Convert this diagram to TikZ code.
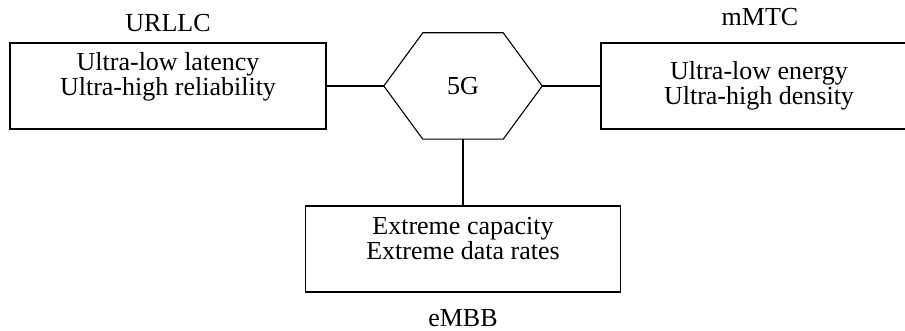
\documentclass[tikz,border=0pt]{standalone}
\usepackage{fontspec}
\setmainfont{Liberation Serif}
\usetikzlibrary{positioning}
\tikzset{
  usecase/.style = {rectangle, draw=black, line width=1.1pt,
                    minimum width=316pt, minimum height=86pt,
                    align=center, inner sep=0pt},
  hexa/.style    = {rectangle, minimum width=158pt, minimum height=106pt,
                    inner sep=0pt},
  tag/.style     = {inner sep=0pt},
  link/.style    = {line width=1.1pt, color=black},
}

\begin{document}
\begin{tikzpicture}[x=1pt, y=-1pt,
  every node/.style={font=\fontsize{26}{25.5}\selectfont}]
\useasboundingbox (0,0) rectangle (905,331);

\node[hexa] (hub) at (463,86) {5G};
% hexagon outline on the hub's anchors
\draw[link, line join=miter] (hub.west) -- ([xshift=39pt]hub.north west)
  -- ([xshift=-39pt]hub.north east) -- (hub.east)
  -- ([xshift=-39pt]hub.south east) -- ([xshift=39pt]hub.south west) -- cycle;

\node[usecase, text depth=24pt] (urllc) at (168,86)
  {Ultra-low latency\\Ultra-high reliability};
\node[usecase] (mmtc) at (759,86)
  {Ultra-low energy\\Ultra-high density};
\node[usecase, minimum width=315pt, text depth=21pt] (embb) at (463,249)
  {Extreme capacity\\Extreme data rates};

\node[tag] (urllcname) at (168,23) {URLLC};
\node[tag] (mmtcname)  at (760,17) {mMTC};
\node[tag] (embbname)  at (463,318) {eMBB};

\draw[link] (urllc.east) -- (hub.west);
\draw[link] (hub.east)   -- (mmtc.west);
\draw[link] (hub.south)  -- (embb.north);

\end{tikzpicture}
\end{document}
